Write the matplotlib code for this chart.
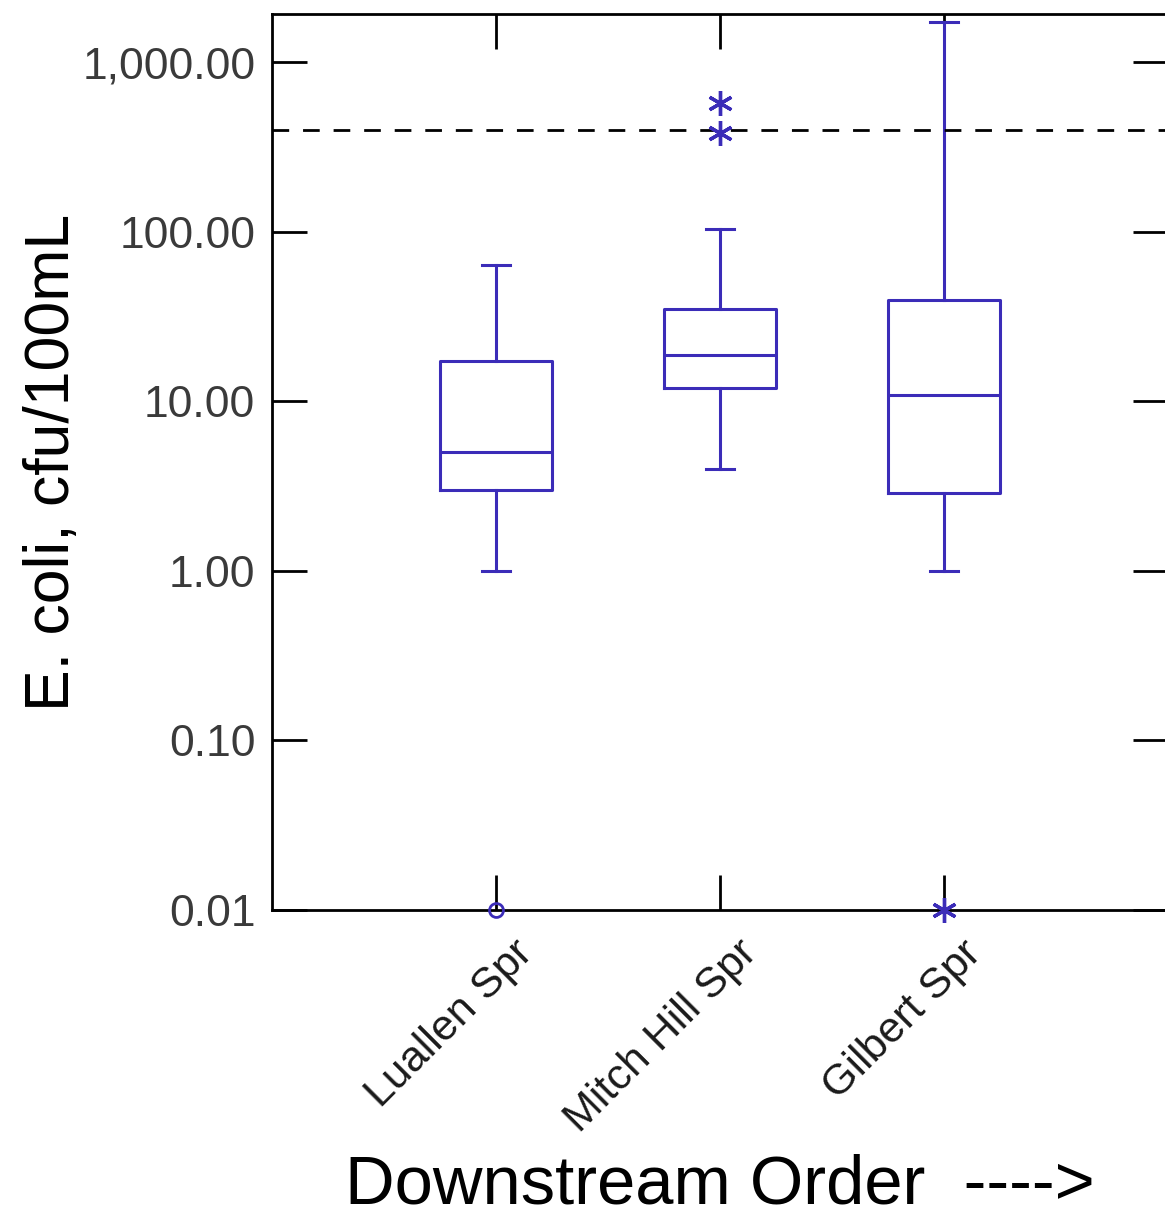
import matplotlib
matplotlib.use("Agg")
import matplotlib.pyplot as plt
import matplotlib.transforms as mtransforms
from matplotlib.ticker import FixedLocator, FuncFormatter

plt.rcParams['font.family'] = ['Liberation Sans', 'DejaVu Sans']

# summary values (cfu/100mL)
sites = ["Luallen Spr", "Mitch Hill Spr", "Gilbert Spr"]
whislo = [1.0, 4.0, 1.0]
q1 = [3.0, 12.0, 2.9]
med = [5.0, 18.8, 10.9]
q3 = [17.3, 35.0, 39.5]
whishi = [64.0, 104.0, 1720.0]
fliers = [[0.01], [384.0, 577.0], [0.01]]
flier_marker = ["o", (6, 2, 0), (6, 2, 0)]
standard = 400.0

box_col = "#3b2cb8"

fig = plt.figure(figsize=(11.65, 12.18), dpi=100)
ax = fig.add_axes([272 / 1165, 308 / 1218, 896 / 1165, 896 / 1218])

stats = []
for i in range(len(sites)):
    stats.append(dict(med=med[i], q1=q1[i], q3=q3[i], whislo=whislo[i],
                      whishi=whishi[i], fliers=[], label=sites[i]))

lp = dict(color=box_col, linewidth=2.2)
ax.bxp(stats, positions=[1, 2, 3], widths=0.5, showfliers=False,
       boxprops=lp, medianprops=lp, whiskerprops=lp, capprops=lp,
       capwidths=0.125)

for i in range(len(sites)):
    m = flier_marker[i]
    if m == "o":
        ax.plot([i + 1] * len(fliers[i]), fliers[i], linestyle="none", marker="o",
                markersize=10, markerfacecolor="none", markeredgecolor=box_col,
                markeredgewidth=2, clip_on=False, zorder=5)
    else:
        ax.plot([i + 1] * len(fliers[i]), fliers[i], linestyle="none", marker=m,
                markersize=18, markeredgecolor=box_col, markeredgewidth=2.4,
                clip_on=False, zorder=5)

ax.axhline(standard, color="black", linestyle=(0, (6, 5)), linewidth=2)

ax.set_yscale("log")
ax.set_ylim(0.01, 1930)
ax.set_xlim(0, 4)

ax.yaxis.set_major_locator(FixedLocator([0.01, 0.1, 1, 10, 100, 1000]))
ax.yaxis.set_minor_locator(FixedLocator([]))
ax.yaxis.set_major_formatter(FuncFormatter(lambda v, p: f"{v:,.2f}"))
ax.set_xticks([1, 2, 3])
ax.set_xticklabels([])

# rotated category labels, nudged right/down like the original
off = mtransforms.ScaledTranslation(17 / 100, -23 / 100, fig.dpi_scale_trans)
for i, s in enumerate(sites):
    ax.text(i + 1, 0, s, transform=ax.get_xaxis_transform() + off,
            rotation=45, ha="right", va="top", rotation_mode="anchor",
            fontsize=31, color="#1a1a1a")

ax.tick_params(direction="in", length=25, width=2, top=True, right=True,
               labelcolor="#3a3a3a")
ax.tick_params(axis="y", labelsize=32, pad=12)
for s in ax.spines.values():
    s.set_linewidth(2)

ax.set_ylabel("E. coli, cfu/100mL", fontsize=45, labelpad=0)
fig.text(345 / 1165, 1 - 1203 / 1218, "Downstream Order  ---->", fontsize=49.5,
         ha="left", va="baseline")

fig.savefig("out.png", dpi=100)
